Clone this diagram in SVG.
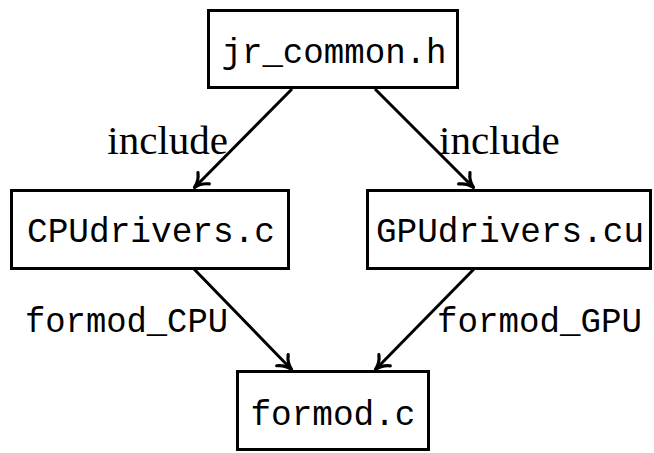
<svg xmlns="http://www.w3.org/2000/svg" width="654" height="453" viewBox="0 0 654 453">
<defs>
<style>
.box{fill:#fff;stroke:#000;stroke-width:3}
.mono{font-family:"Liberation Mono","DejaVu Sans Mono",monospace;font-size:35px;fill:#000}
.serif{font-family:"Liberation Serif","DejaVu Serif",serif;font-size:41px;fill:#000}
.edge{stroke:#000;stroke-width:3;fill:none;marker-end:url(#arr)}
</style>
<marker id="arr" markerUnits="userSpaceOnUse" viewBox="-14 -9 16 18" markerWidth="16" markerHeight="18" refX="0" refY="0" orient="auto" overflow="visible">
<path d="M -13,-8 C -9,-3 -4.5,-0.8 0,0 C -4.5,0.8 -9,3 -13,8" fill="none" stroke="#000" stroke-width="3.2" stroke-linecap="round" stroke-linejoin="round"/>
</marker>
</defs>
<g id="connectors">
<line class="edge" x1="292" y1="89" x2="194.5" y2="187.5"/>
<line class="edge" x1="375" y1="89" x2="473.5" y2="187.5"/>
<line class="edge" x1="194" y1="269" x2="291.5" y2="369.5"/>
<line class="edge" x1="474" y1="269" x2="375.5" y2="369.5"/>
<text class="serif" x="228" y="154" text-anchor="end">include</text>
<text class="serif" x="439" y="154">include</text>
<text class="mono" x="25" y="332" textLength="203" lengthAdjust="spacingAndGlyphs">formod_CPU</text>
<text class="mono" x="437" y="332" textLength="205" lengthAdjust="spacingAndGlyphs">formod_GPU</text>
</g>
<g id="jr_common">
<rect class="box" x="208.5" y="10.5" width="249" height="77"/>
<text class="mono" x="334" y="63" text-anchor="middle" textLength="225" lengthAdjust="spacingAndGlyphs">jr_common.h</text>
</g>
<g id="cpudrivers">
<rect class="box" x="11.5" y="190.5" width="277" height="78"/>
<text class="mono" x="151" y="242" text-anchor="middle" textLength="248" lengthAdjust="spacingAndGlyphs">CPUdrivers.c</text>
</g>
<g id="gpudrivers">
<rect class="box" x="367.5" y="190.5" width="283" height="78"/>
<text class="mono" x="510" y="242" text-anchor="middle" textLength="268" lengthAdjust="spacingAndGlyphs">GPUdrivers.cu</text>
</g>
<g id="formod">
<rect class="box" x="237.5" y="371.5" width="191" height="78"/>
<text class="mono" x="333" y="425" text-anchor="middle" textLength="165" lengthAdjust="spacingAndGlyphs">formod.c</text>
</g>
</svg>
